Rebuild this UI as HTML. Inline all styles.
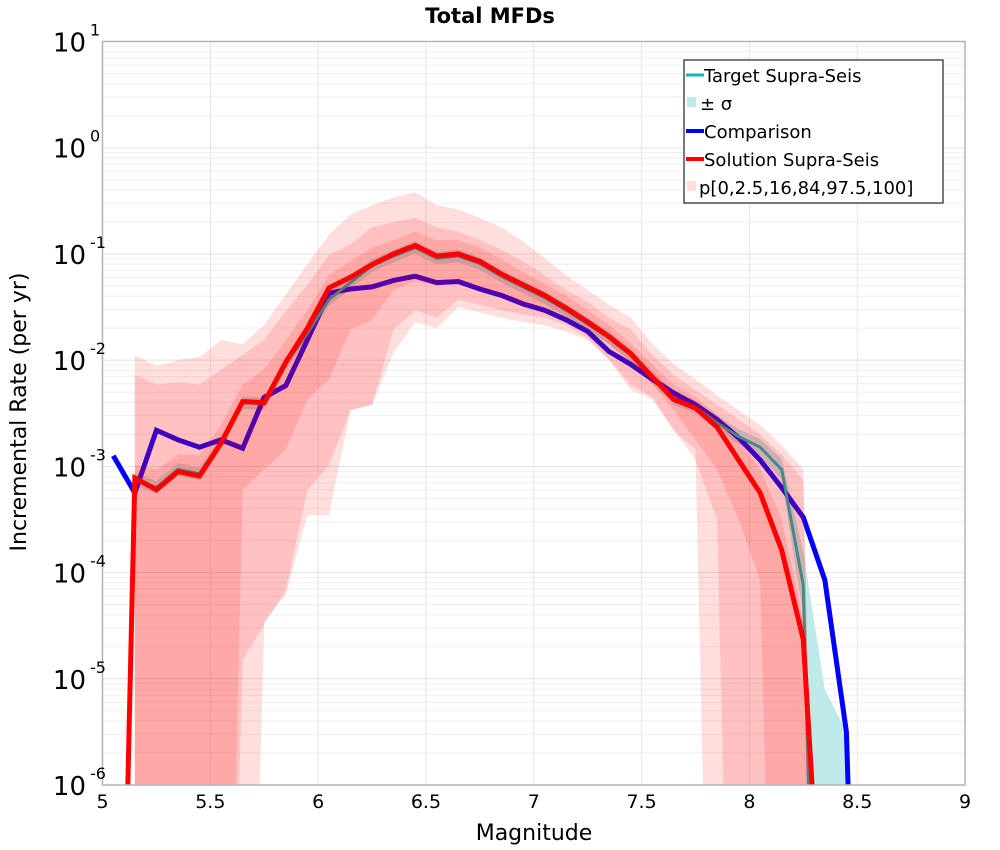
<!DOCTYPE html>
<html><head><meta charset="utf-8"><style>
html,body{margin:0;background:#fff;width:1000px;height:850px;overflow:hidden;}
svg{display:block;font-family:"DejaVu Sans","Liberation Sans",sans-serif;}
</style></head><body>
<svg id="chart" width="1000" height="850" viewBox="0 0 1000 850">
<defs><clipPath id="plotclip"><rect x="102.5" y="41.5" width="862.5" height="743.5"/></clipPath></defs>
<text x="490" y="23" font-size="21" font-weight="bold" text-anchor="middle">Total MFDs</text>
<g id="grid"></g>
<g id="series" clip-path="url(#plotclip)"></g>
<g id="axes"></g>
<text x="534" y="840" font-size="22" text-anchor="middle">Magnitude</text>
<text transform="translate(26,412) rotate(-90)" font-size="22" text-anchor="middle">Incremental Rate (per yr)</text>
<g>
<rect x="684" y="60" width="259" height="143" fill="#fff" stroke="#222" stroke-width="1.2"/>
<g><line x1="686" y1="75" x2="704" y2="75" stroke="#10b5b5" stroke-width="3"/><text x="704" y="82" font-size="18">Target Supra-Seis</text></g>
<g><rect x="687" y="97" width="9" height="10" fill="#bfeaea"/><text x="700" y="110" font-size="18">± σ</text></g>
<g><line x1="686" y1="131" x2="704" y2="131" stroke="#0000ff" stroke-width="4"/><text x="704" y="138" font-size="18">Comparison</text></g>
<g><line x1="686" y1="159" x2="704" y2="159" stroke="#ff0000" stroke-width="4"/><text x="704" y="166" font-size="18">Solution Supra-Seis</text></g>
<g><rect x="687" y="181" width="9" height="10" fill="#ffdede"/><text x="699" y="194" font-size="18">p[0,2.5,16,84,97.5,100]</text></g>
</g>
</svg>
<script>
// Magnitude bin centres 5.05 .. 8.55 (step 0.1); values are log10(rate per yr); -12 = zero rate
const binStart = 5.05, binStep = 0.1;
const comparisonLog = [-2.90,-3.25,-2.66,-2.75,-2.82,-2.75,-2.83,-2.35,-2.24,-1.81,-1.37,-1.33,-1.31,-1.25,-1.21,-1.27,-1.26,-1.33,-1.39,-1.47,-1.53,-1.62,-1.73,-1.92,-2.04,-2.18,-2.31,-2.42,-2.56,-2.73,-2.94,-3.20,-3.48,-4.07,-5.50,-12];
const solutionLog = [-12,-3.11,-3.22,-3.05,-3.09,-2.78,-2.39,-2.40,-2.02,-1.70,-1.32,-1.22,-1.10,-1.00,-0.92,-1.02,-1.00,-1.07,-1.19,-1.29,-1.39,-1.51,-1.64,-1.78,-1.94,-2.16,-2.37,-2.45,-2.63,-2.94,-3.25,-3.79,-4.63,-8];
const targetLog = [-12,-3.12,-3.20,-3.03,-3.07,-2.78,-2.40,-2.41,-2.03,-1.75,-1.43,-1.27,-1.11,-1.02,-0.94,-1.04,-1.02,-1.09,-1.21,-1.31,-1.41,-1.53,-1.66,-1.79,-1.95,-2.16,-2.36,-2.44,-2.59,-2.72,-2.82,-3.03,-4.12,-12];
const sigmaUpperLog = [-12,-3.06,-3.14,-2.97,-3.01,-2.72,-2.34,-2.35,-1.97,-1.69,-1.37,-1.21,-1.05,-0.96,-0.88,-0.98,-0.96,-1.03,-1.15,-1.25,-1.35,-1.47,-1.60,-1.73,-1.89,-2.10,-2.30,-2.38,-2.52,-2.65,-2.74,-2.93,-3.80,-5.10,-5.50,-12];
const sigmaLowerLog = [-12,-3.18,-3.26,-3.09,-3.13,-2.84,-2.46,-2.47,-2.09,-1.81,-1.49,-1.33,-1.17,-1.08,-1.00,-1.10,-1.08,-1.15,-1.27,-1.37,-1.47,-1.59,-1.72,-1.85,-2.01,-2.22,-2.42,-2.50,-2.66,-2.79,-2.90,-3.13,-4.40,-12,-12,-12];
// percentile bands, bins 5.15 .. 8.35
const p100Log = [-1.95,-2.06,-2.00,-1.97,-1.81,-1.85,-1.67,-1.38,-1.10,-0.82,-0.63,-0.54,-0.47,-0.42,-0.54,-0.58,-0.66,-0.75,-0.88,-1.04,-1.20,-1.34,-1.48,-1.60,-1.85,-2.04,-2.18,-2.33,-2.47,-2.61,-2.80,-3.03,-12];
const p0Log = [-12,-12,-12,-12,-12,-12,-4.46,-4.21,-3.46,-3.46,-2.47,-2.42,-1.93,-1.64,-1.70,-1.50,-1.55,-1.60,-1.64,-1.67,-1.73,-1.81,-2.00,-2.23,-2.35,-2.66,-2.84,-12,-12,-12,-12,-12,-12];
const p975Log = [-2.14,-2.23,-2.21,-2.23,-2.09,-1.95,-1.81,-1.54,-1.29,-1.01,-0.91,-0.75,-0.70,-0.66,-0.75,-0.79,-0.87,-0.96,-1.07,-1.20,-1.34,-1.45,-1.60,-1.71,-1.95,-2.14,-2.28,-2.42,-2.56,-2.70,-2.89,-3.13,-12];
const p25Log = [-12,-12,-12,-12,-12,-4.82,-4.49,-4.16,-3.22,-2.99,-2.47,-2.42,-1.71,-1.53,-1.60,-1.43,-1.48,-1.53,-1.57,-1.60,-1.67,-1.79,-2.00,-2.28,-2.37,-2.66,-2.94,-3.50,-12,-12,-12,-12,-12];
const p84Log = [-2.99,-3.03,-2.89,-2.89,-2.61,-2.23,-2.09,-1.81,-1.53,-1.20,-1.07,-0.94,-0.87,-0.79,-0.87,-0.87,-0.94,-1.05,-1.17,-1.28,-1.39,-1.53,-1.67,-1.84,-2.04,-2.23,-2.35,-2.51,-2.75,-3.03,-3.50,-4.45,-12];
const p16Log = [-12,-12,-12,-12,-12,-3.22,-3.03,-2.84,-2.37,-2.18,-1.71,-1.62,-1.34,-1.26,-1.30,-1.26,-1.34,-1.40,-1.48,-1.53,-1.60,-1.71,-1.85,-2.04,-2.23,-2.47,-2.75,-3.03,-3.50,-4.07,-12,-12,-12];
const bandStart = 5.15;
const xTicks = [5,5.5,6,6.5,7,7.5,8,8.5,9];
const yExps = [1,0,-1,-2,-3,-4,-5,-6];

const X0=102.5, X1=965, Y0=41.5, Y1=785, XMIN=5, XMAX=9, LMAX=1, LMIN=-6;
const NS='http://www.w3.org/2000/svg';
function xs(m){return X0+(m-XMIN)/(XMAX-XMIN)*(X1-X0);}
function ys(l){return Y0+(LMAX-l)/(LMAX-LMIN)*(Y1-Y0);}
function mk(tag,attrs,parent){const e=document.createElementNS(NS,tag);for(const k in attrs)e.setAttribute(k,attrs[k]);parent.appendChild(e);return e;}
const grid=document.getElementById('grid'), series=document.getElementById('series'), axes=document.getElementById('axes');
for(let e=LMIN;e<LMAX;e++){for(let k=1;k<10;k++){const l=e+Math.log10(k);const g=mk('line',{x1:X0,x2:X1,y1:ys(l),y2:ys(l),stroke:k===1?'#e2e2e2':'#efefef','stroke-width':1},grid);

}}
xTicks.forEach(t=>{const g=mk('line',{x1:xs(t),x2:xs(t),y1:Y0,y2:Y1,stroke:'#e6e6e6','stroke-width':1},grid);

});
function pts(arr,start){return arr.map((v,i)=>[xs(start+i*binStep),ys(v)]);}
function band(up,lo,start,fill,name){const a=pts(up,start),b=pts(lo,start).reverse();const p=mk('polygon',{points:a.concat(b).map(q=>q.join(',')).join(' '),fill:fill},series);

}
function line(arr,start,color,w,name){const p=mk('polyline',{points:pts(arr,start).map(q=>q.join(',')).join(' '),fill:'none',stroke:color,'stroke-width':w,'stroke-linejoin':'miter'},series);

}
band(sigmaUpperLog,sigmaLowerLog,binStart,'#bfeaea','sigma-band');
line(comparisonLog,binStart,'#0000ff',5,'comparison-line');
line(targetLog,binStart,'#10b5b5',3,'target-line');
band(p100Log,p0Log,bandStart,'rgba(255,0,0,0.13)','band-p0-p100');
band(p975Log,p25Log,bandStart,'rgba(255,0,0,0.13)','band-p2.5-p97.5');
band(p84Log,p16Log,bandStart,'rgba(255,0,0,0.13)','band-p16-p84');
line(solutionLog,binStart,'#ff0000',5,'solution-line');
let f=mk('rect',{x:X0,y:Y0,width:X1-X0,height:Y1-Y0,fill:'none',stroke:'#b4b4b4','stroke-width':1.5},axes);


xTicks.forEach(t=>{const tx=mk('text',{x:xs(t),y:808,'font-size':19,'text-anchor':'middle'},axes);tx.textContent=String(t);

});
yExps.forEach(e=>{const tx=mk('text',{x:86,y:ys(e)+10,'font-size':26,'text-anchor':'end'},axes);tx.textContent='10';


const sp=mk('text',{x:90,y:ys(e)-6,'font-size':16,'text-anchor':'start'},axes);sp.textContent=String(e);

});
</script>
</body></html>
